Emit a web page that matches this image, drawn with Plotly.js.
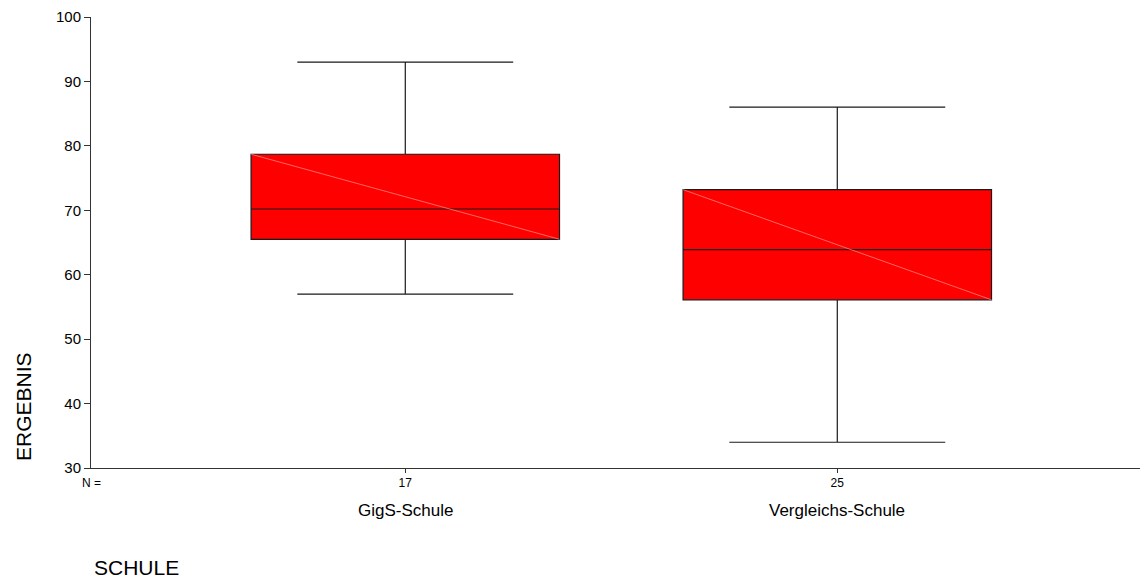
<!DOCTYPE html>
<html>
<head>
<meta charset="utf-8">
<script src="https://cdn.plot.ly/plotly-3.0.1.min.js"></script>
<style>
  html, body { margin: 0; padding: 0; background: #fff; }
  #chart { width: 1143px; height: 578px; }
</style>
</head>
<body>
<div id="chart"></div>
<script>
// ---- data ----
const schools     = ["GigS-Schule", "Vergleichs-Schule"];
const nCounts     = [17, 25];
const upperWhisk  = [93, 86];
const q3Values    = [78.7, 73.2];
const medianVals  = [70.2, 63.9];
const q1Values    = [65.5, 56.1];
const lowerWhisk  = [57, 34];
const yTickVals   = [30, 40, 50, 60, 70, 80, 90, 100];

// ---- styling constants ----
const BOX_W = 0.714;
const FONT = "Liberation Sans, Arial, sans-serif";
const positions = schools.map((_, i) => i);

const boxTrace = {
  type: "box",
  x: positions,
  q1: q1Values,
  median: medianVals,
  q3: q3Values,
  lowerfence: lowerWhisk,
  upperfence: upperWhisk,
  width: BOX_W,
  whiskerwidth: 0.7,
  boxpoints: false,
  fillcolor: "#FF0000",
  line: { color: "#1a1a1a", width: 1.2 },
  hoverinfo: "skip",
  showlegend: false
};

// light diagonal artifact drawn across each box (top-left to bottom-right)
const diagX = [], diagY = [];
positions.forEach((p, i) => {
  diagX.push(p - BOX_W / 2, p + BOX_W / 2, null);
  diagY.push(q3Values[i], q1Values[i], null);
});
const diagTrace = {
  type: "scatter",
  mode: "lines",
  x: diagX,
  y: diagY,
  line: { color: "rgba(255,150,150,0.85)", width: 0.8 },
  hoverinfo: "skip",
  showlegend: false
};

const annotations = [];
schools.forEach((s, i) => {
  annotations.push({
    text: s, x: positions[i], xref: "x", y: -0.094, yref: "paper",
    xanchor: "center", yanchor: "middle", showarrow: false,
    font: { family: FONT, size: 17, color: "#000" }
  });
});
annotations.push({
  text: "N =", x: 0, xref: "paper", y: -0.034, yref: "paper",
  xanchor: "center", yanchor: "middle", showarrow: false,
  font: { family: FONT, size: 12, color: "#000" }
});
annotations.push({
  text: "SCHULE", x: 0.001, xref: "paper", y: -0.2205, yref: "paper",
  xanchor: "left", yanchor: "middle", showarrow: false,
  font: { family: FONT, size: 21, color: "#000" }
});
annotations.push({
  text: "ERGEBNIS", x: -0.065, xref: "paper", y: 0.137, yref: "paper",
  xanchor: "center", yanchor: "middle", showarrow: false, textangle: -90,
  font: { family: FONT, size: 21, color: "#000" }
});

const layout = {
  width: 1143,
  height: 578,
  margin: { l: 91, r: 3, t: 17, b: 110 },
  paper_bgcolor: "#fff",
  plot_bgcolor: "#fff",
  showlegend: false,
  font: { family: FONT, color: "#000" },
  xaxis: {
    type: "linear",
    range: [-0.7275, 1.7007],
    tickmode: "array",
    tickvals: positions,
    ticktext: nCounts.map(String),
    ticks: "outside",
    ticklen: 4,
    tickcolor: "#333",
    tickfont: { family: FONT, size: 12, color: "#000" },
    showline: true,
    linecolor: "#333",
    linewidth: 1,
    showgrid: false,
    zeroline: false,
    fixedrange: true
  },
  yaxis: {
    range: [30, 100],
    tickmode: "array",
    tickvals: yTickVals,
    ticks: "outside",
    ticklen: 6,
    tickcolor: "#333",
    tickfont: { family: FONT, size: 15, color: "#000" },
    showline: true,
    linecolor: "#333",
    linewidth: 1,
    showgrid: false,
    zeroline: false,
    fixedrange: true
  },
  annotations: annotations
};

Plotly.newPlot("chart", [boxTrace, diagTrace], layout, { displayModeBar: false, staticPlot: true });
</script>
</body>
</html>
